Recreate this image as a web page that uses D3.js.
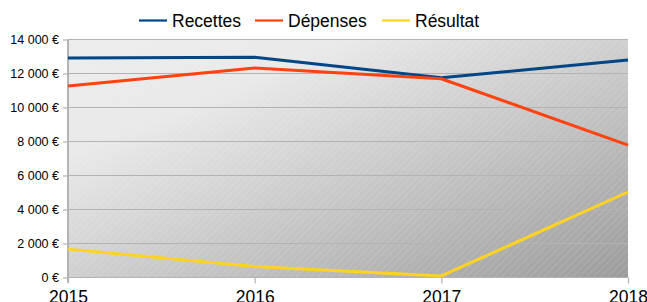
<!DOCTYPE html>
<html>
<head>
<meta charset="utf-8">
<script src="https://cdn.jsdelivr.net/npm/d3@7"></script>
<style>
  html, body { margin: 0; padding: 0; background: #fff; }
  svg { display: block; font-family: "Liberation Sans", Arial, sans-serif; }
</style>
</head>
<body>
<div id="chart"></div>
<script>
var years = ['2015', '2016', '2017', '2018'];
var recettes = [12880, 12920, 11720, 12760];
var depenses = [11240, 12300, 11660, 7760];
var resultat = [1640, 620, 60, 5000];
var yTicks = [0, 2000, 4000, 6000, 8000, 10000, 12000, 14000];
var seriesNames = ['Recettes', 'Dépenses', 'Résultat'];
var seriesColors = ['#004586', '#ff420e', '#ffd320'];

(function() {
  var width = 647,
      height = 302,
      margin = {top: 39, right: 19, bottom: 25, left: 68},
      series = [recettes, depenses, resultat];

  var svg = d3.select('#chart').append('svg')
      .attr('width', width)
      .attr('height', height);

  var defs = svg.append('defs');

  // Grey wash from the top left corner to the bottom right one.
  var grad = defs.append('linearGradient')
      .attr('id', 'bgGrad')
      .attr('x1', '0').attr('y1', '0')
      .attr('x2', '1').attr('y2', '1');
  grad.append('stop').attr('offset', '0').attr('stop-color', '#ededed');
  grad.append('stop').attr('offset', '0.25').attr('stop-color', '#e9e9e9');
  grad.append('stop').attr('offset', '1').attr('stop-color', '#9c9c9c');

  // Faint white hatching over the wash.
  var hatch = defs.append('pattern')
      .attr('id', 'hatch')
      .attr('patternUnits', 'userSpaceOnUse')
      .attr('width', 5).attr('height', 5)
      .attr('patternTransform', 'rotate(45)');
  hatch.append('line')
      .attr('x1', 0).attr('y1', 0).attr('x2', 0).attr('y2', 5)
      .attr('stroke', '#ffffff')
      .attr('stroke-opacity', 0.25)
      .attr('stroke-width', 1);

  var x = d3.scalePoint()
      .domain(years)
      .range([margin.left, width - margin.right]);

  var y = d3.scaleLinear()
      .domain([0, 14000])
      .range([height - margin.bottom, margin.top]);

  var plotW = x.range()[1] - x.range()[0],
      plotH = y.range()[0] - y.range()[1];

  svg.append('rect')
      .attr('x', margin.left).attr('y', margin.top)
      .attr('width', plotW).attr('height', plotH)
      .attr('fill', 'url(#bgGrad)');
  svg.append('rect')
      .attr('x', margin.left).attr('y', margin.top)
      .attr('width', plotW).attr('height', plotH)
      .attr('fill', 'url(#hatch)');

  // Horizontal grid lines.
  svg.selectAll('line.grid').data(yTicks)
    .enter().append('line')
      .attr('class', 'grid')
      .attr('x1', margin.left).attr('x2', x.range()[1])
      .attr('y1', function(d) { return y(d) + 0.5; })
      .attr('y2', function(d) { return y(d) + 0.5; })
      .attr('stroke', '#b3b3b3')
      .attr('stroke-width', 1.2);

  var fmt = function(d) {
    return d3.format(',')(d).replace(/,/g, '\u00a0') + '\u00a0€';
  };

  var yAxis = svg.append('g')
      .attr('transform', 'translate(' + margin.left + ',0.5)')
      .call(d3.axisLeft(y).tickValues(yTicks).tickSize(5).tickPadding(4)
          .tickFormat(fmt));
  yAxis.select('.domain')
      .attr('stroke', '#b3b3b3').attr('stroke-width', 2)
      .attr('d', 'M0,' + y.range()[1] + 'V' + (y.range()[0] + 5));
  yAxis.selectAll('.tick line').attr('stroke', '#b3b3b3').attr('stroke-width', 1.2);
  yAxis.selectAll('.tick text')
      .attr('fill', '#000')
      .style('font-size', '12.5px')
      .style('font-family', '"Liberation Sans", Arial, sans-serif');

  var xAxis = svg.append('g')
      .attr('transform', 'translate(0,' + (y.range()[0] + 0.5) + ')')
      .call(d3.axisBottom(x).tickSize(6).tickPadding(7));
  xAxis.select('.domain')
      .attr('stroke', '#b3b3b3').attr('stroke-width', 1.2)
      .attr('d', 'M' + x.range()[0] + ',0H' + x.range()[1]);
  xAxis.selectAll('.tick line').attr('stroke', '#b3b3b3').attr('stroke-width', 1.2);
  xAxis.selectAll('.tick text')
      .attr('fill', '#000')
      .style('font-size', '17.5px')
      .style('font-family', '"Liberation Sans", Arial, sans-serif');

  var line = d3.line()
      .x(function(d, i) { return x(years[i]); })
      .y(function(d) { return y(d); });

  svg.selectAll('path.series').data(series)
    .enter().append('path')
      .attr('class', 'series')
      .attr('d', line)
      .attr('fill', 'none')
      .attr('stroke', function(d, i) { return seriesColors[i]; })
      .attr('stroke-width', 3)
      .attr('stroke-linejoin', 'round');

  // Legend across the top, centred.
  var legendX = [139, 255, 382];
  var legend = svg.selectAll('g.legend').data(seriesNames)
    .enter().append('g')
      .attr('class', 'legend')
      .attr('transform', function(d, i) {
        return 'translate(' + legendX[i] + ',20.5)';
      });
  legend.append('line')
      .attr('x1', 0).attr('x2', 28)
      .attr('y1', 0).attr('y2', 0)
      .attr('stroke', function(d, i) { return seriesColors[i]; })
      .attr('stroke-width', 2.2);
  legend.append('text')
      .attr('x', 33).attr('y', 6.5)
      .style('font-size', '17.5px')
      .attr('fill', '#000')
      .text(function(d) { return d; });
})();
</script>
</body>
</html>
